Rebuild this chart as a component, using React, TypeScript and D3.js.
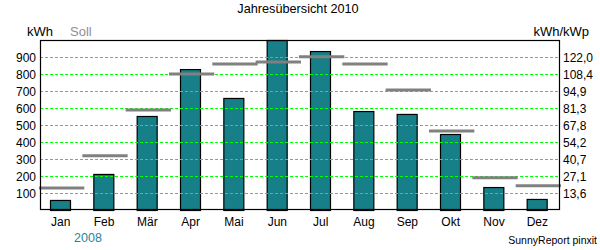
import React from "react";
import * as d3 from "d3";

const months = ["Jan", "Feb", "Mär", "Apr", "Mai", "Jun", "Jul", "Aug", "Sep", "Okt", "Nov", "Dez"];
const istValues = [59, 212, 553, 829, 659, 1000, 935, 582, 565, 447, 135, 65];
const sollValues = [129, 319, 588, 800, 859, 871, 902, 859, 706, 465, 190, 143];
const leftTicks = [100, 200, 300, 400, 500, 600, 700, 800, 900];
const kWp = 900 / 122.0;

const W = 600;
const H = 250;
const left = 40;
const right = 560;
const top = 40;
const bottom = 210;
const font = "Arial, 'Liberation Sans', sans-serif";

export default function App() {
  const x = d3.scaleBand<string>().domain(months).range([left, right]).padding(0);
  const y = d3.scaleLinear().domain([0, 1000]).range([bottom, top]);
  const bw = x.bandwidth();
  const fmt = (v: number) => (v / kWp).toFixed(1).replace(".", ",");

  return (
    <svg width={W} height={H} style={{ position: "absolute", left: 0, top: 0, background: "#fff" }}>
      <rect x={0} y={0} width={W} height={H} fill="#fff" />
      <text x={298} y={13} textAnchor="middle" fontFamily={font} fontSize={12.7} fill="#000">
        Jahresübersicht 2010
      </text>
      <text x={27} y={36} fontFamily={font} fontSize={13} fill="#000">kWh</text>
      <text x={70} y={36} fontFamily={font} fontSize={13} fill="#909090">Soll</text>
      <text x={589} y={36} textAnchor="end" fontFamily={font} fontSize={13} fill="#000">kWh/kWp</text>

      {/* bars */}
      {months.map((m, i) => {
        const x0 = x(m)!;
        const v = istValues[i];
        return (
          <rect
            key={m}
            x={x0 + 10.5}
            y={y(v) + 0.5}
            width={20}
            height={bottom - y(v)}
            fill="#167f87"
            stroke="#000"
            strokeWidth={1.2}
          />
        );
      })}

      {/* gridlines */}
      {leftTicks.map((t) => (
        <line
          key={t}
          x1={left}
          x2={right}
          y1={Math.round(y(t)) + 0.5}
          y2={Math.round(y(t)) + 0.5}
          stroke="#00ff00"
          strokeWidth={1}
          strokeDasharray="3,2"
          shapeRendering="crispEdges"
        />
      ))}

      {/* soll lines */}
      {months.map((m, i) => {
        const x0 = x(m)!;
        const yy = y(sollValues[i]);
        return (
          <line
            key={"s" + m}
            x1={x0 - 1}
            x2={x0 + bw + 1}
            y1={yy}
            y2={yy}
            stroke="#808080"
            strokeWidth={3}
          />
        );
      })}

      {/* frame */}
      <rect x={left + 0.5} y={top + 0.5} width={right - left - 1} height={bottom - top - 1} fill="none" stroke="#000" strokeWidth={1.2} />

      {/* left ticks */}
      {leftTicks.map((t) => (
        <text key={"l" + t} x={36} y={y(t) + 4.5} textAnchor="end" fontFamily={font} fontSize={12} fill="#000">
          {t}
        </text>
      ))}
      {/* right ticks */}
      {leftTicks.map((t) => (
        <text key={"r" + t} x={563} y={y(t) + 4.5} textAnchor="start" fontFamily={font} fontSize={12} fill="#000">
          {fmt(t)}
        </text>
      ))}

      {/* x labels */}
      {months.map((m) => (
        <text key={"x" + m} x={x(m)! + bw / 2 - 1} y={226} textAnchor="middle" fontFamily={font} fontSize={12} fill="#000">
          {m}
        </text>
      ))}
      <text x={88} y={242} textAnchor="middle" fontFamily={font} fontSize={12.5} fill="#1f8595">2008</text>
      <text x={597} y={244} textAnchor="end" fontFamily={font} fontSize={10.5} fill="#000">SunnyReport pinxit</text>
    </svg>
  );
}
